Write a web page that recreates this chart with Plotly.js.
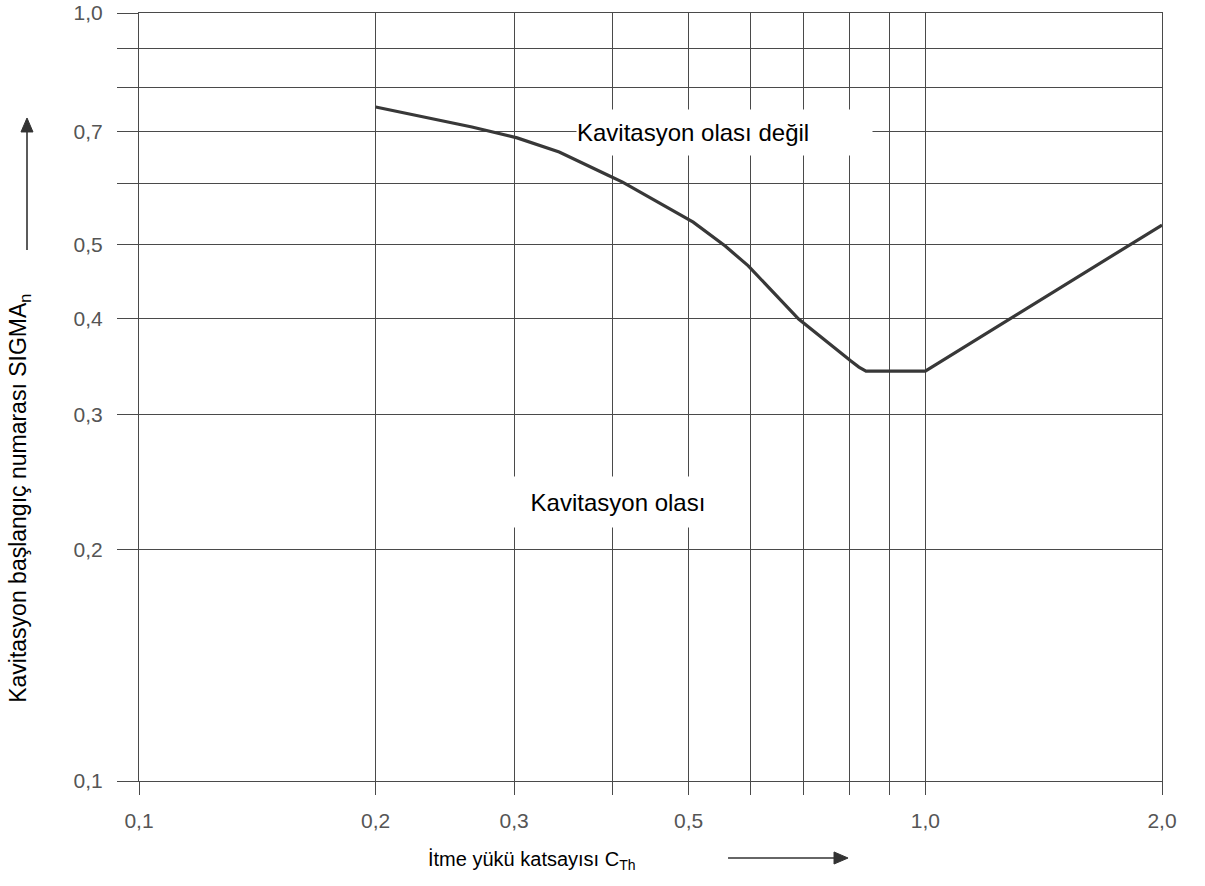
<!DOCTYPE html>
<html>
<head>
<meta charset="utf-8">
<script src="https://cdn.plot.ly/plotly-3.0.1.min.js"></script>
<style>
html,body{margin:0;padding:0;background:#fff;}
#chart{width:1205px;height:886px;}
</style>
</head>
<body>
<div id="chart"></div>
<script>
// Thrust loading coefficient C_Th (x) and cavitation inception number SIGMA_n (y)
const cth   = [0.2,   0.2405, 0.2651, 0.3026, 0.3423, 0.3943, 0.4121, 0.5068, 0.5566, 0.5955, 0.6901, 0.8043, 0.8233, 0.8406, 1.0,    2.0];
const sigma = [0.7545, 0.7256, 0.7106, 0.6877, 0.659, 0.6152, 0.6024, 0.5342, 0.4972, 0.4685, 0.3995, 0.3522, 0.3459, 0.3418, 0.3418, 0.5296];

const xTickVals  = [0.1, 0.2, 0.3, 0.5, 1.0, 2.0];
const xTickText  = ['0,1', '0,2', '0,3', '0,5', '1,0', '2,0'];
const xMinorVals = [0.4, 0.6, 0.7, 0.8, 0.9];
const yTickVals  = [0.1, 0.2, 0.3, 0.4, 0.5, 0.7, 1.0];
const yTickText  = ['0,1', '0,2', '0,3', '0,4', '0,5', '0,7', '1,0'];
const yMinorVals = [0.6, 0.8, 0.9];

const xTitle = 'İtme yükü katsayısı C<sub>Th</sub>';
const yTitle = 'Kavitasyon başlangıç numarası SIGMA<sub>n</sub>';
const labelNo = 'Kavitasyon olası değil';
const labelYes = 'Kavitasyon olası';

const FONT = 'Liberation Sans, Arial, sans-serif';
const GRID = '#4a4a4a';
const ARROW = '#333333';

const trace = {
  x: cth, y: sigma, type: 'scatter', mode: 'lines',
  line: {color: '#383838', width: 3.2},
  hoverinfo: 'skip', showlegend: false
};

const layout = {
  width: 1205, height: 886,
  margin: {l: 139, r: 43, t: 13, b: 105},
  paper_bgcolor: '#ffffff', plot_bgcolor: '#ffffff',
  font: {family: FONT, color: '#000'},
  showlegend: false,
  xaxis: {
    type: 'log', range: [-1, Math.log10(2)],
    tickmode: 'array', tickvals: xTickVals, ticktext: xTickText,
    ticks: 'outside', ticklen: 13, tickwidth: 1, tickcolor: GRID,
    showgrid: true, gridcolor: GRID, gridwidth: 1,
    minor: {tickmode: 'array', tickvals: xMinorVals, ticks: 'outside', ticklen: 13,
            tickwidth: 1, tickcolor: GRID, showgrid: true, gridcolor: GRID, gridwidth: 1},
    showline: true, mirror: true, linecolor: GRID, linewidth: 1,
    zeroline: false,
    tickfont: {family: FONT, size: 21, color: '#555'},
    ticklabelstandoff: 8
  },
  yaxis: {
    type: 'log', range: [-1, 0],
    tickmode: 'array', tickvals: yTickVals, ticktext: yTickText,
    ticks: 'outside', ticklen: 21, tickwidth: 1, tickcolor: GRID,
    showgrid: true, gridcolor: GRID, gridwidth: 1,
    minor: {tickmode: 'array', tickvals: yMinorVals, ticks: 'outside', ticklen: 21,
            tickwidth: 1, tickcolor: GRID, showgrid: true, gridcolor: GRID, gridwidth: 1},
    showline: true, mirror: true, linecolor: GRID, linewidth: 1,
    zeroline: false,
    tickfont: {family: FONT, size: 21, color: '#555'},
    ticklabelstandoff: 10
  },
  shapes: [
    // y-direction arrow (shaft + head)
    {type: 'line', xref: 'paper', yref: 'paper', x0: -0.10948, x1: -0.10948, y0: 0.6914, y1: 0.8503,
     line: {color: ARROW, width: 1.6}},
    {type: 'path', xref: 'paper', yref: 'paper',
     path: 'M -0.10948 0.8633 L -0.11535 0.8451 L -0.10362 0.8451 Z',
     fillcolor: ARROW, line: {color: ARROW, width: 1}},
    // x-direction arrow (shaft + head)
    {type: 'line', xref: 'paper', yref: 'paper', x0: 0.5758, x1: 0.6813, y0: -0.1003, y1: -0.1003,
     line: {color: ARROW, width: 1.6}},
    {type: 'path', xref: 'paper', yref: 'paper',
     path: 'M 0.6931 -0.1003 L 0.6794 -0.0924 L 0.6794 -0.1081 Z',
     fillcolor: ARROW, line: {color: ARROW, width: 1}}
  ],
  annotations: [
    {xref: 'paper', yref: 'paper', x: 0.5723, y: 0.8444, text: labelNo, showarrow: false,
     font: {family: FONT, size: 24, color: '#000'}, bgcolor: '#ffffff',
     width: 295, height: 45, align: 'left', borderpad: 0, xanchor: 'center', yanchor: 'middle'},
    {xref: 'paper', yref: 'paper', x: 0.4682, y: 0.3633, text: labelYes, showarrow: false,
     font: {family: FONT, size: 24, color: '#000'}, bgcolor: '#ffffff',
     width: 220, height: 50, align: 'center', borderpad: 0, xanchor: 'center', yanchor: 'middle'},
    // rotated y-axis title
    {xref: 'paper', yref: 'paper', x: -0.1165, y: 0.3685, text: yTitle, showarrow: false, textangle: -90,
     font: {family: FONT, size: 23, color: '#000'}, xanchor: 'center', yanchor: 'middle'},
    // x-axis title
    {xref: 'paper', yref: 'paper', x: 0.3842, y: -0.1029, text: xTitle, showarrow: false,
     font: {family: FONT, size: 20, color: '#000'}, xanchor: 'center', yanchor: 'middle'}
  ]
};

Plotly.newPlot('chart', [trace], layout, {displayModeBar: false, staticPlot: true});
</script>
</body>
</html>
